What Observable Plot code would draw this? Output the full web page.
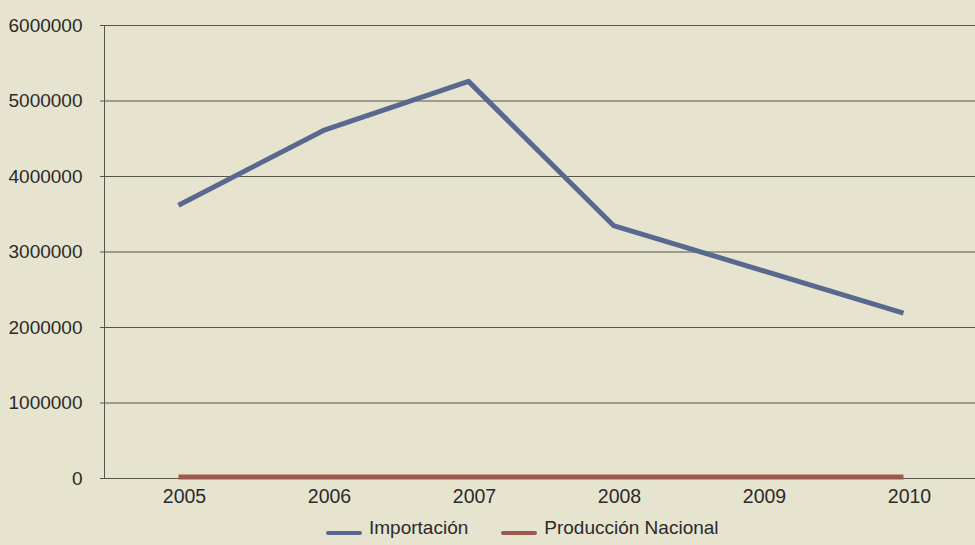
<!DOCTYPE html>
<html>
<head>
<meta charset="utf-8">
<script src="https://cdn.jsdelivr.net/npm/d3@7"></script>
<script src="https://cdn.jsdelivr.net/npm/@observablehq/plot@0.6"></script>
<style>
  html, body { margin: 0; padding: 0; background: #e6e3cf; }
  body { width: 975px; height: 545px; overflow: hidden; font-family: "Liberation Sans", Arial, sans-serif; }
  #legend { position: relative; height: 35px; display: flex; align-items: center; padding-left: 326px; font-size: 19px; color: #2b2b2b; }
  .item { display: flex; align-items: center; margin-right: 33px; }
  .sw { width: 36px; height: 4px; border-radius: 2px; position: relative; top: 5px; margin-right: 7px; }
</style>
</head>
<body>
<div id="chart"></div>
<div id="legend"></div>
<script>
const years = ["2005", "2006", "2007", "2008", "2009", "2010"];
const importacion = [3620000, 4610000, 5260000, 3350000, 2770000, 2190000];
const produccion = [20000, 20000, 20000, 20000, 20000, 20000];
const yTicks = [0, 1000000, 2000000, 3000000, 4000000, 5000000, 6000000];
const seriesNames = ["Importación", "Producción Nacional"];
const seriesColors = ["#5a6890", "#9c5a4e"];

const data = [
  ...years.map((y, i) => ({year: y, value: importacion[i], serie: seriesNames[0]})),
  ...years.map((y, i) => ({year: y, value: produccion[i], serie: seriesNames[1]}))
];

const chart = Plot.plot({
  width: 975,
  height: 510,
  marginTop: 25,
  marginBottom: 32,
  marginLeft: 104,
  marginRight: 0,
  style: {background: "transparent", fontFamily: "'Liberation Sans', Arial, sans-serif", color: "#2b2b2b"},
  x: {type: "point", domain: years, padding: 0, insetLeft: 72, insetRight: 70, label: null},
  y: {domain: [0, 6000000], label: null},
  color: {domain: seriesNames, range: seriesColors},
  marks: [
    Plot.gridY(yTicks, {stroke: "#55554a", strokeOpacity: 1, strokeWidth: 1}),
    Plot.axisY(yTicks, {tickSize: 4, tickPadding: 18, tickFormat: d => String(d), fontSize: 19, stroke: "#55554a", fill: "#2b2b2b", label: null}),
    Plot.frame({anchor: "left", stroke: "#55554a"}),
    Plot.axisX({tickSize: 0, tickPadding: 11, fontSize: 19.5, fill: "#2b2b2b", dx: 6, label: null}),
    Plot.line(data, {x: "year", y: "value", z: "serie", stroke: "serie", strokeWidth: 5, strokeLinejoin: "round", strokeLinecap: "butt"})
  ]
});
document.getElementById("chart").appendChild(chart);

const legend = document.getElementById("legend");
seriesNames.forEach((n, i) => {
  const it = document.createElement("div");
  it.className = "item";
  const sw = document.createElement("span");
  sw.className = "sw";
  sw.style.background = seriesColors[i];
  const t = document.createElement("span");
  t.textContent = n;
  it.appendChild(sw); it.appendChild(t);
  legend.appendChild(it);
});
</script>
</body>
</html>
